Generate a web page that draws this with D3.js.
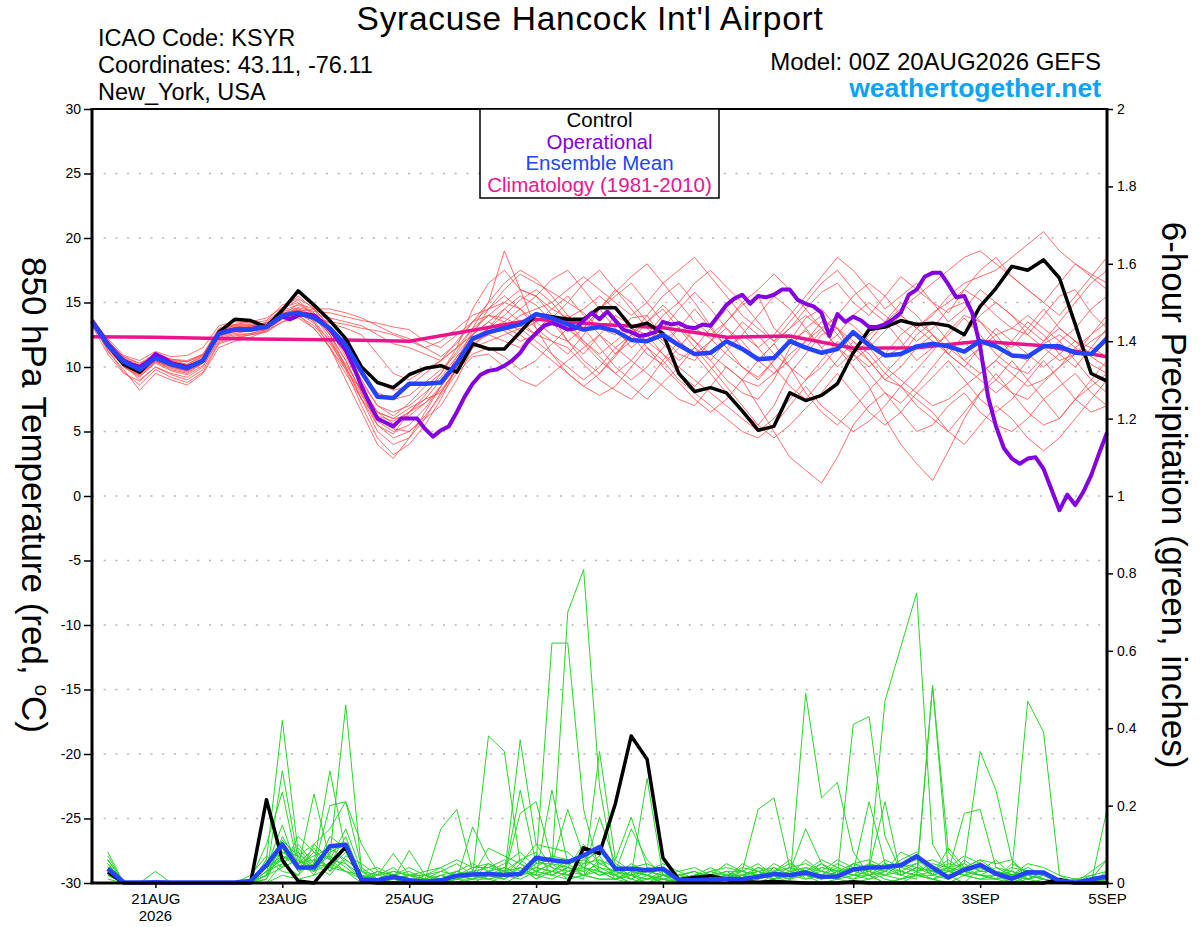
<!DOCTYPE html>
<html>
<head>
<meta charset="utf-8">
<title>Syracuse Hancock Int'l Airport - GEFS</title>
<script src="https://cdn.jsdelivr.net/npm/d3@7"></script>
<style>
  body { margin: 0; background: #fff; }
  svg { display: block; font-family: "Liberation Sans", Arial, Helvetica, sans-serif; }
</style>
</head>
<body>
<div id="chart"></div>
<script>
// model run start (00Z 20AUG2026), members are 6-hourly, the operational run is 3-hourly
const RUN_START = Date.UTC(2026, 7, 20, 0);
const HOUR = 3600 * 1000;

// labels on the time axis
const TICK_DATES = ["2026-08-21", "2026-08-23", "2026-08-25", "2026-08-27",
                    "2026-08-29", "2026-09-01", "2026-09-03", "2026-09-05"];
const TICK_LABELS = ["21AUG", "23AUG", "25AUG", "27AUG", "29AUG", "1SEP", "3SEP", "5SEP"];

// 850 hPa temperature (C), every 6 h from 00Z 20AUG
const TEMP_CONTROL = [13.6, 11.7, 10.2, 9.6, 10.8, 10.3, 10.0, 10.5, 12.7, 13.7, 13.6, 13.1, 14.4, 15.9, 14.8, 13.6,
  12.2, 10.0, 8.8, 8.4, 9.4, 9.9, 10.1, 9.6, 11.8, 11.4, 11.4, 12.7, 14.1, 13.9, 13.7, 13.7,
  14.6, 14.6, 13.1, 13.4, 12.6, 9.5, 8.1, 8.4, 8.0, 6.6, 5.1, 5.4, 8.0, 7.4, 7.8, 8.7,
  11.1, 12.9, 13.1, 13.6, 13.3, 13.4, 13.2, 12.5, 14.7, 16.1, 17.8, 17.5, 18.3, 16.9, 13.3, 9.5, 8.9];
const TEMP_MEAN = [13.5, 11.7, 10.4, 9.8, 10.7, 10.2, 9.9, 10.5, 12.6, 12.9, 12.9, 13.1, 14.0, 14.2, 13.8, 13.0,
  11.7, 9.6, 7.7, 7.6, 8.7, 8.7, 8.8, 10.3, 12.2, 12.7, 13.0, 13.3, 14.1, 13.8, 13.3, 12.9,
  13.1, 12.8, 12.1, 12.0, 12.5, 11.7, 11.0, 11.1, 12.0, 11.4, 10.6, 10.7, 12.0, 11.5, 11.1, 11.4,
  12.7, 11.7, 10.9, 11.0, 11.6, 11.8, 11.6, 11.2, 12.0, 11.6, 10.9, 10.8, 11.6, 11.6, 11.1, 11.0, 12.2];
// operational run, every 3 h
const TEMP_OPER = [13.6, 12.7, 11.8, 11.1, 10.5, 10.2, 10.0, 10.4, 11.0, 10.7, 10.3, 10.1, 10.0, 10.2, 10.5, 11.6,
  12.6, 12.8, 12.9, 12.9, 12.9, 13.1, 13.1, 13.5, 13.9, 13.7, 14.0, 14.1, 14.0, 13.5, 12.9, 12.1,
  11.3, 10.0, 8.5, 7.2, 6.0, 5.7, 5.4, 6.0, 6.0, 6.0, 5.2, 4.6, 5.1, 5.4, 6.5, 7.7,
  8.7, 9.4, 9.7, 9.8, 10.1, 10.5, 11.1, 12.0, 12.6, 13.2, 13.4, 13.2, 12.9, 13.0, 13.6, 14.2,
  13.7, 14.3, 13.6, 12.9, 12.7, 12.4, 12.5, 12.7, 13.5, 13.3, 13.4, 13.1, 13.0, 13.3, 13.2, 14.0,
  14.8, 15.3, 15.6, 14.9, 15.5, 15.4, 15.6, 16.0, 16.0, 15.2, 14.9, 14.7, 14.2, 12.4, 14.1, 13.5,
  13.9, 13.6, 13.1, 13.1, 13.3, 13.7, 14.2, 15.6, 16.0, 17.0, 17.3, 17.3, 16.4, 15.4, 15.5, 14.2,
  11.6, 7.7, 5.4, 3.7, 2.9, 2.5, 2.9, 3.0, 2.1, 0.5, -1.1, 0.1, -0.7, 0.3, 1.6, 3.3, 4.9];
// climatology 1981-2010, once a day at 00Z
const TEMP_CLIMO = [12.35, 12.3, 12.2, 12.15, 12.1, 12.0, 12.85, 13.7, 13.3, 13.05, 12.3, 12.4, 11.45, 11.5, 12.0, 11.65, 10.8];

// ensemble members, every 6 h from 00Z 20AUG
const TEMP_MEMBERS = [
  [13.6, 11.5, 10.0, 9.2, 10.4, 9.8, 9.5, 10.3, 12.8, 13.2, 13.0, 13.5, 14.5, 15.2, 14.0, 12.5, 10.5, 8.0, 5.5, 4.8, 6.5, 7.5, 8.0, 10.0, 12.5, 14.5, 16.0, 17.2, 16.5, 15.8, 15.0, 14.2, 13.0, 12.5, 13.8, 14.0, 12.2, 11.0, 10.5, 12.0, 13.5, 14.8, 15.5, 13.0, 12.0, 11.5, 12.8, 14.0, 13.2, 12.0, 10.8, 11.5, 13.0, 14.2, 15.0, 16.0, 15.2, 14.0, 13.0, 12.5, 14.0, 15.5, 16.0, 14.2, 13.0],
  [13.4, 12.0, 10.8, 10.2, 11.0, 10.5, 10.4, 10.9, 12.4, 12.8, 13.2, 13.4, 14.0, 14.6, 14.3, 14.2, 13.9, 13.6, 13.4, 13.1, 12.9, 12.0, 11.5, 12.5, 13.5, 14.0, 13.8, 13.2, 12.5, 12.0, 11.5, 10.2, 9.0, 8.2, 7.5, 8.8, 10.5, 12.0, 11.0, 9.5, 8.0, 6.5, 5.5, 7.0, 9.5, 11.0, 12.5, 13.0, 11.5, 10.5, 9.0, 8.5, 9.8, 11.2, 12.8, 14.0, 13.5, 12.5, 11.0, 10.5, 11.8, 12.5, 11.5, 10.2, 9.5],
  [13.5, 11.2, 9.8, 8.2, 9.5, 9.0, 8.6, 9.5, 11.5, 12.0, 12.3, 12.8, 13.5, 14.0, 13.2, 11.8, 10.0, 7.5, 6.0, 5.2, 5.0, 6.0, 7.0, 9.0, 11.5, 13.0, 14.5, 15.5, 14.8, 13.5, 12.0, 10.5, 9.5, 10.8, 12.5, 14.0, 15.5, 16.5, 15.0, 13.2, 11.5, 10.0, 9.0, 10.5, 12.0, 13.8, 14.5, 13.0, 11.0, 9.5, 8.0, 7.2, 8.5, 10.0, 11.5, 12.0, 10.5, 9.0, 8.0, 7.5, 8.8, 10.0, 11.5, 12.5, 13.5],
  [13.7, 12.2, 10.9, 10.5, 11.2, 10.8, 10.9, 11.5, 13.2, 13.5, 13.4, 13.6, 14.8, 15.3, 14.6, 13.0, 11.2, 9.0, 7.0, 6.2, 7.2, 8.5, 9.5, 11.5, 14.5, 16.5, 17.5, 16.0, 15.5, 16.8, 17.5, 16.0, 14.5, 13.0, 11.5, 12.5, 14.0, 15.0, 16.5, 17.5, 16.2, 15.0, 13.5, 12.0, 13.0, 14.5, 15.8, 16.5, 15.0, 14.0, 15.5, 17.0, 16.0, 15.0, 14.2, 16.0, 17.5, 18.5, 17.0, 16.0, 15.0, 16.5, 18.0, 17.2, 16.5],
  [13.5, 11.8, 10.2, 9.0, 10.0, 9.5, 9.2, 10.0, 12.2, 12.5, 12.6, 12.9, 13.8, 14.1, 13.6, 12.0, 9.8, 7.0, 4.5, 3.2, 4.0, 5.5, 7.5, 10.0, 12.0, 13.0, 13.5, 14.5, 15.5, 14.0, 12.0, 11.0, 12.5, 14.0, 13.2, 11.5, 10.0, 8.8, 7.5, 6.5, 7.5, 9.0, 10.5, 11.8, 10.0, 8.0, 6.5, 5.5, 6.8, 8.2, 9.5, 8.5, 7.0, 6.0, 5.0, 6.5, 8.0, 9.5, 8.0, 6.5, 5.5, 6.0, 7.5, 8.5, 9.5],
  [13.6, 11.6, 10.4, 9.9, 10.8, 10.2, 10.0, 10.6, 12.7, 13.0, 13.1, 13.2, 14.2, 14.4, 13.9, 13.4, 13.0, 12.5, 11.0, 9.5, 9.0, 9.8, 10.5, 11.5, 13.0, 15.0, 19.0, 16.0, 13.0, 11.0, 9.5, 8.5, 9.5, 11.0, 12.5, 11.0, 10.2, 11.5, 13.0, 12.2, 11.0, 10.0, 9.2, 10.5, 12.0, 12.8, 11.5, 10.0, 11.2, 12.5, 13.5, 12.0, 10.5, 11.5, 12.5, 13.8, 12.5, 11.0, 10.0, 9.5, 10.8, 12.0, 10.5, 9.0, 8.0],
  [13.3, 11.4, 10.1, 9.5, 10.5, 10.0, 9.8, 10.4, 12.5, 12.9, 13.0, 13.2, 14.4, 14.8, 14.2, 12.8, 10.8, 8.5, 6.5, 6.0, 6.8, 7.5, 9.0, 10.5, 12.8, 14.0, 13.5, 12.8, 13.5, 14.5, 15.5, 14.0, 12.5, 11.0, 12.0, 13.5, 14.8, 13.5, 12.0, 10.5, 9.0, 8.0, 7.5, 9.0, 11.5, 13.0, 14.0, 12.5, 11.0, 12.0, 13.5, 15.0, 14.0, 12.5, 11.0, 10.0, 11.5, 13.0, 12.0, 11.0, 10.0, 11.0, 12.0, 11.5, 10.8],
  [13.8, 12.1, 10.6, 10.0, 11.1, 10.6, 10.5, 11.0, 12.9, 13.3, 13.5, 13.8, 14.6, 15.0, 14.0, 12.2, 10.0, 7.8, 5.8, 5.0, 5.5, 6.8, 8.5, 10.8, 12.0, 12.5, 12.0, 11.5, 12.8, 14.0, 13.0, 11.8, 10.5, 9.5, 8.5, 7.5, 8.8, 10.0, 11.5, 10.0, 8.5, 7.0, 5.5, 4.5, 5.5, 6.8, 8.0, 9.5, 8.0, 6.5, 5.5, 6.5, 8.0, 9.2, 10.5, 9.0, 7.5, 6.5, 7.5, 9.0, 10.5, 9.0, 7.5, 6.5, 7.0],
  [13.5, 11.9, 10.5, 9.7, 10.6, 10.1, 9.9, 10.6, 12.6, 12.8, 12.9, 13.0, 13.8, 14.0, 13.8, 13.5, 13.3, 13.0, 12.8, 12.5, 12.0, 11.5, 12.0, 13.0, 14.0, 14.5, 15.5, 14.5, 13.0, 12.0, 11.0, 12.5, 14.5, 16.0, 15.0, 13.5, 12.0, 13.0, 14.5, 13.0, 11.5, 12.5, 14.0, 15.5, 14.5, 13.0, 11.5, 12.5, 14.0, 15.0, 14.0, 13.0, 12.0, 13.0, 14.5, 15.0, 13.5, 12.0, 11.5, 13.0, 14.5, 13.0, 12.0, 11.0, 12.5],
  [13.4, 11.3, 9.6, 8.6, 9.8, 9.2, 8.8, 9.6, 11.8, 12.2, 12.5, 12.7, 13.5, 13.8, 13.0, 11.5, 9.8, 8.2, 6.5, 5.6, 6.5, 7.2, 8.2, 9.8, 11.0, 11.5, 10.8, 9.8, 10.5, 11.8, 13.0, 12.0, 10.8, 9.5, 10.5, 12.0, 11.0, 9.5, 8.5, 9.8, 11.2, 12.5, 11.5, 10.0, 8.5, 7.5, 9.0, 10.5, 12.0, 11.0, 9.5, 10.8, 12.5, 13.5, 12.0, 10.5, 9.5, 10.5, 12.0, 13.5, 12.5, 11.0, 10.0, 11.5, 13.0],
  [13.6, 11.7, 10.3, 9.6, 10.6, 10.1, 9.8, 10.5, 12.3, 12.6, 12.8, 13.0, 13.9, 14.3, 14.5, 14.5, 14.2, 13.8, 13.2, 12.6, 12.2, 11.5, 10.8, 11.8, 13.5, 15.0, 16.5, 17.5, 16.8, 15.5, 14.0, 13.0, 14.5, 15.8, 17.0, 18.0, 16.5, 15.0, 13.5, 12.5, 13.5, 15.0, 16.0, 17.2, 16.0, 14.5, 13.0, 14.0, 15.5, 16.5, 15.5, 14.0, 13.0, 14.0, 15.5, 16.5, 17.0, 17.5, 18.5, 19.5, 20.5, 19.0, 18.0, 17.0, 16.0],
  [13.5, 11.5, 10.2, 9.6, 10.5, 10.0, 9.7, 10.3, 12.5, 12.9, 13.0, 13.2, 14.3, 14.6, 13.5, 11.5, 9.0, 6.5, 4.0, 2.9, 4.5, 6.5, 8.5, 10.5, 12.0, 12.8, 13.0, 12.5, 11.5, 10.5, 9.5, 8.5, 7.8, 8.5, 10.0, 11.5, 10.5, 9.0, 8.0, 7.0, 6.0, 5.0, 4.5, 5.5, 7.0, 8.5, 7.0, 6.0, 5.0, 5.8, 7.0, 8.5, 7.5, 6.5, 5.0, 4.0, 5.5, 7.0, 6.0, 4.5, 3.5, 4.5, 6.0, 7.5, 9.0],
  [13.7, 11.9, 10.7, 10.1, 10.9, 10.4, 10.2, 10.8, 12.9, 13.2, 13.2, 13.4, 14.1, 14.5, 14.0, 13.0, 11.5, 9.5, 8.0, 7.5, 7.8, 8.8, 9.8, 11.0, 12.5, 13.5, 14.5, 13.5, 12.5, 13.8, 15.0, 16.5, 17.5, 16.0, 14.5, 13.0, 11.8, 10.5, 11.5, 13.0, 14.5, 13.0, 11.5, 12.5, 14.0, 15.5, 17.0, 18.5, 17.5, 16.0, 14.5, 15.5, 16.5, 15.0, 13.5, 14.5, 16.0, 15.0, 14.0, 13.0, 12.0, 13.5, 15.0, 16.5, 17.5],
  [13.2, 11.0, 9.5, 8.9, 10.0, 9.4, 9.0, 9.8, 11.9, 12.3, 12.5, 12.8, 13.7, 14.0, 13.0, 11.5, 9.5, 7.5, 5.5, 4.5, 5.0, 6.2, 7.8, 9.5, 10.8, 11.0, 10.0, 9.0, 8.5, 9.5, 10.5, 11.5, 12.5, 11.5, 10.5, 9.5, 8.5, 7.5, 7.0, 8.5, 10.0, 9.0, 7.0, 5.0, 3.0, 2.0, 1.0, 3.0, 5.5, 7.0, 8.0, 6.5, 5.0, 5.5, 7.0, 8.0, 6.5, 5.5, 5.0, 6.0, 7.5, 8.5, 9.5, 8.0, 7.0],
  [13.6, 11.8, 10.6, 10.1, 11.0, 10.5, 10.2, 10.9, 12.8, 13.1, 13.2, 13.3, 14.0, 14.3, 14.1, 13.8, 13.5, 13.2, 12.5, 11.8, 11.5, 11.0, 10.5, 11.5, 12.5, 13.5, 12.8, 12.0, 12.5, 13.5, 14.0, 13.0, 11.5, 10.0, 9.0, 10.0, 11.5, 13.0, 12.0, 11.0, 10.0, 9.0, 8.5, 9.5, 11.0, 12.0, 13.0, 11.5, 10.0, 8.5, 6.0, 4.0, 2.5, 1.2, 3.5, 6.0, 8.0, 9.0, 10.5, 9.0, 7.5, 6.0, 7.5, 9.0, 10.5],
  [13.5, 11.6, 10.2, 9.4, 10.4, 9.9, 9.6, 10.3, 12.4, 12.7, 12.8, 13.0, 13.8, 14.2, 13.4, 12.0, 10.2, 8.2, 6.5, 6.0, 6.2, 7.2, 8.5, 10.0, 11.8, 12.5, 13.0, 14.0, 14.5, 15.0, 16.0, 17.0, 16.0, 15.0, 14.0, 15.0, 16.5, 17.5, 18.5, 17.0, 15.5, 14.0, 13.0, 12.0, 13.5, 15.0, 16.5, 17.5, 16.0, 14.5, 13.5, 14.5, 15.5, 16.5, 17.5, 18.5, 19.0, 18.0, 17.0, 16.0, 15.0, 14.0, 15.5, 17.0, 18.5],
  [13.4, 11.4, 10.0, 9.3, 10.3, 9.7, 9.4, 10.1, 12.0, 12.4, 12.6, 12.9, 14.0, 14.9, 14.5, 13.2, 11.0, 8.8, 7.0, 6.5, 7.0, 8.0, 9.2, 10.8, 12.2, 13.0, 14.0, 15.2, 16.0, 15.0, 13.5, 12.0, 11.0, 12.0, 13.0, 12.5, 11.0, 10.0, 9.0, 8.0, 7.0, 6.0, 5.0, 6.0, 7.5, 9.0, 10.0, 11.5, 12.5, 11.5, 10.0, 9.0, 8.0, 7.0, 7.5, 8.5, 9.5, 10.5, 9.5, 8.5, 9.0, 10.0, 11.0, 12.0, 12.8],
  [13.6, 11.8, 10.5, 9.9, 10.8, 10.3, 10.1, 10.7, 12.7, 13.0, 13.0, 13.1, 13.9, 14.2, 13.8, 12.8, 11.6, 10.0, 8.8, 8.2, 8.5, 9.5, 10.5, 12.0, 13.5, 14.5, 15.0, 16.0, 15.5, 14.5, 13.8, 14.5, 15.5, 14.5, 13.0, 12.0, 13.0, 14.5, 15.8, 14.5, 13.0, 11.5, 10.5, 11.8, 13.0, 14.0, 13.0, 11.5, 10.5, 11.5, 12.8, 14.0, 13.0, 12.0, 11.0, 12.5, 14.0, 15.0, 14.0, 12.5, 11.5, 10.5, 11.0, 12.5, 14.0],
  [13.5, 11.5, 10.0, 9.4, 10.5, 10.0, 9.7, 10.4, 12.6, 13.0, 13.1, 13.3, 14.6, 15.5, 14.5, 12.5, 10.0, 7.5, 5.0, 4.0, 4.5, 6.0, 8.0, 9.8, 11.5, 12.0, 12.5, 13.0, 12.0, 11.0, 10.0, 9.0, 10.0, 11.5, 12.5, 13.5, 14.5, 13.0, 11.5, 10.5, 12.0, 13.5, 12.5, 11.0, 10.0, 9.0, 10.5, 12.0, 11.0, 10.0, 11.0, 12.5, 13.5, 12.5, 11.0, 10.0, 9.0, 8.0, 9.0, 10.5, 12.0, 13.0, 12.0, 10.8, 10.0],
  [13.7, 12.0, 10.8, 10.3, 11.0, 10.6, 10.4, 11.0, 13.0, 13.3, 13.3, 13.4, 14.1, 14.4, 14.0, 12.5, 10.5, 8.0, 6.2, 5.8, 6.5, 7.8, 9.5, 11.2, 13.0, 14.0, 15.0, 14.5, 13.5, 12.5, 12.0, 13.0, 14.5, 15.5, 16.5, 15.0, 13.5, 12.0, 11.0, 12.0, 13.0, 12.0, 10.5, 9.5, 10.5, 12.0, 13.5, 13.0, 12.0, 10.5, 9.0, 10.0, 11.5, 12.5, 11.5, 10.5, 11.5, 12.5, 13.0, 14.0, 13.0, 12.0, 13.0, 14.5, 15.5]
];

// 6-hour precipitation (inches), every 6 h from 06Z 20AUG
const PRECIP_CONTROL = [0.028, 0, 0, 0, 0, 0, 0, 0, 0, 0, 0.215, 0.059, 0.005, 0, 0.05, 0.093,
  0.005, 0, 0, 0, 0, 0, 0, 0, 0, 0, 0, 0, 0, 0, 0.091, 0.076,
  0.205, 0.38, 0.32, 0.065, 0.009, 0.014, 0.019, 0.009, 0.003, 0.002, 0.004, 0.002, 0, 0, 0, 0.003,
  0, 0, 0, 0, 0, 0, 0, 0, 0, 0, 0, 0, 0.009, 0, 0, 0];
const PRECIP_MEAN = [0.037, 0.002, 0.001, 0.002, 0.001, 0.001, 0.001, 0.001, 0.001, 0.005, 0.046, 0.1, 0.04, 0.04, 0.095, 0.099,
  0.009, 0.007, 0.016, 0.007, 0.003, 0.007, 0.019, 0.022, 0.023, 0.021, 0.023, 0.065, 0.059, 0.054, 0.071, 0.093,
  0.037, 0.037, 0.033, 0.037, 0.007, 0.007, 0.009, 0.011, 0.01, 0.016, 0.023, 0.02, 0.027, 0.016, 0.017, 0.035,
  0.04, 0.041, 0.046, 0.069, 0.04, 0.014, 0.034, 0.047, 0.024, 0.011, 0.028, 0.027, 0.005, 0.001, 0.009, 0.017];
const PRECIP_MEMBERS = [
  [.04, 0, 0, 0, 0, 0, 0, 0, 0, 0, .06, .42, .08, .03, .05, .12, .01, 0, 0, 0, 0, 0, .02, .03, .01, 0, .02, .05, .62, .62, .19, .03, .01, 0, .02, 0, 0, 0, 0, .01, .02, 0, .01, .03, .02, 0, .01, .05, .03, .01, 0, .02, .01, 0, 0, .04, .02, 0, .01, 0, 0, 0, 0, .01],
  [.07, 0, 0, 0, 0, 0, 0, 0, 0, 0, .02, .29, .06, .04, .07, .46, .03, 0, 0, 0, 0, .01, 0, 0, 0, .02, .04, .01, .05, .70, .81, .25, .02, 0, 0, .01, 0, 0, 0, 0, 0, .01, .02, 0, .49, .22, .26, .08, .02, 0, .01, .03, .01, .02, 0, 0, 0, .01, 0, 0, 0, 0, 0, 0],
  [.02, 0, 0, .03, 0, 0, 0, 0, 0, .01, .10, .235, .04, .23, .06, .03, .01, .02, .076, .02, 0, 0, .01, .01, .05, .02, .37, .10, .04, .01, .02, .04, .03, .14, .06, .02, 0, .01, .03, .02, .01, .03, .01, .02, .06, .03, .02, .41, .43, .12, .03, .02, .01, .03, .05, .34, .24, .06, .02, .01, 0, 0, .01, .06],
  [.08, 0, 0, 0, 0, 0, 0, 0, 0, 0, .04, .15, .03, .05, .29, .08, .02, 0, .01, .084, .02, 0, .03, .02, .38, .34, .05, .01, .03, .02, .01, .34, .06, .17, .04, .01, 0, 0, .02, .05, .03, .19, .22, .04, .02, .01, .03, .01, .02, 0, .01, .02, .51, .08, .03, .02, .01, 0, .02, .03, .01, 0, 0, .19],
  [.05, 0, 0, 0, 0, 0, 0, 0, 0, 0, .03, .06, .09, .04, .20, .21, .10, .03, .01, 0, .01, .14, .19, .03, .02, .01, .04, .02, .24, .05, .02, .01, .01, .02, .27, .02, .01, 0, 0, .02, .02, .01, .04, .02, .03, .05, .02, .01, .04, .47, .61, .75, .10, .03, .02, .01, .02, .01, .03, .01, 0, .01, .02, .03],
  [.03, 0, 0, 0, 0, 0, 0, 0, 0, .02, .07, .04, .12, .08, .06, .14, .03, .01, 0, .02, .03, .04, .01, .145, .06, .02, .18, .21, .06, .04, .03, .17, .05, .03, .02, 0, .01, .02, .01, 0, .02, .04, .03, .06, .01, .02, .05, .03, .21, .05, .02, .01, .51, .03, .18, .19, .04, .02, .03, .02, 0, 0, 0, .01],
  [.06, 0, 0, 0, 0, 0, 0, 0, 0, 0, .05, .08, .07, .02, .10, .05, .02, 0, .02, .01, 0, .02, .03, .05, .03, .05, .08, .04, .07, .06, .05, .09, .04, .01, 0, .02, .02, .03, .01, .02, .03, .02, .05, .03, .02, .04, .03, .05, .06, .04, .03, .02, .03, .05, .04, .02, .04, .03, .47, .39, .02, 0, 0, .01],
  [.04, 0, 0, 0, 0, 0, 0, 0, 0, 0, .01, .12, .05, .06, .04, .09, .01, .02, .04, .01, 0, .01, .02, .01, .03, .02, .24, .05, .05, .19, .07, .03, .02, .04, .05, .03, .01, 0, .01, .02, 0, .02, .01, .03, .14, .05, .02, .03, .02, .04, .05, .06, .04, .02, .03, .02, .01, .05, .03, .02, .01, 0, .03, .06],
  [.02, 0, 0, 0, 0, 0, 0, 0, 0, 0, .02, .10, .04, .03, .12, .09, .02, 0, .01, .02, .02, .04, .06, .04, .05, .03, .06, .08, .02, .04, .10, .05, .03, .01, .04, .03, .02, .01, .03, .04, .03, .05, .02, .04, .05, .03, .02, .04, .03, .06, .04, .05, .06, .04, .03, .05, .03, .02, .04, .02, .01, 0, 0, 0],
  [.05, 0, 0, 0, 0, 0, 0, 0, 0, 0, 0, .05, .02, .10, .14, .21, .04, .01, 0, 0, .01, 0, .01, 0, .02, .01, .03, .02, .01, .03, .02, .06, .02, 0, .01, .01, 0, 0, .01, 0, .01, 0, .02, .01, .04, .02, .01, .02, .01, .03, .02, .04, .02, .01, .03, .02, .02, .01, .02, .01, 0, 0, 0, 0],
  [.03, 0, 0, 0, 0, 0, 0, 0, 0, 0, .04, .07, .05, .09, .03, .06, .03, .04, .02, .01, 0, .02, .01, .02, .09, .07, .05, .10, .09, .08, .04, .07, .01, .03, .02, .01, .02, .01, 0, .02, .04, .03, .02, .01, .03, .02, .04, .02, .05, .03, .06, .08, .02, .09, .04, .06, .05, .06, .01, .02, 0, 0, .01, .02],
  [.06, 0, 0, 0, 0, 0, 0, 0, 0, 0, .01, .09, .03, .05, .02, .07, .05, .02, .03, .02, .01, 0, .02, .04, .04, .06, .03, .04, .03, .05, .06, .08, .04, .02, .03, .05, .03, .04, .02, .01, .05, .03, .04, .02, .02, .04, .03, .02, .03, .02, .05, .03, .04, .03, .02, .05, .02, .04, .03, .01, 0, .01, 0, .02],
  [.01, 0, 0, 0, 0, 0, 0, 0, 0, 0, .06, .03, .02, .06, .07, .04, .01, .03, .02, 0, .02, .01, .02, .03, .02, .04, .02, .06, .04, .03, .04, .02, .03, .02, .01, .02, .01, .02, .04, .02, .02, .01, .03, .05, .03, .01, .02, .03, .04, .21, .02, .04, .03, .02, .06, .03, .06, .02, .01, .03, .01, 0, .02, .01],
  [.04, 0, 0, 0, 0, 0, 0, 0, 0, 0, .03, .05, .08, .04, .05, .03, .02, .01, .03, .02, .01, .02, 0, .01, .03, .01, .05, .03, .02, .04, .03, .05, .06, .03, .02, .04, .02, .03, .01, .03, .01, .04, .02, .03, .04, .03, .06, .04, .02, .05, .04, .03, .05, .04, .02, .03, .03, .02, .05, .04, .02, .01, 0, 0],
  [.02, 0, 0, 0, 0, 0, 0, 0, 0, 0, 0, .02, .01, .02, .04, .03, 0, 0, .01, 0, 0, 0, .01, .02, .01, .02, .01, .03, .02, .01, .02, .01, .01, .02, 0, .01, 0, .01, 0, 0, .01, 0, .01, .02, .01, .02, .01, 0, .01, .02, .01, .02, .01, 0, .02, .01, .01, .02, 0, .01, 0, 0, 0, 0],
  [.05, 0, 0, 0, 0, 0, 0, 0, 0, 0, .02, .04, .06, .03, .08, .10, .02, .01, .02, .03, .01, .03, .05, .02, .03, .04, .02, .03, .05, .02, .06, .04, .02, .05, .03, .02, .01, .02, .03, .01, .02, .03, .01, .02, .03, .06, .04, .02, .02, .03, .08, .06, .03, .04, .07, .05, .02, .03, .01, .02, .01, 0, .01, 0],
  [.03, 0, 0, 0, 0, 0, 0, 0, 0, 0, .05, .11, .07, .10, .06, .05, .01, 0, 0, .01, .01, 0, .02, .01, .02, .03, .02, .04, .03, .02, .05, .06, .04, .02, .01, .03, .01, .02, .02, .01, .02, .01, .03, .02, .02, .03, .02, .05, .04, .02, .03, .05, .02, .03, .04, .06, .03, .02, .01, .03, 0, 0, 0, .02],
  [.04, 0, 0, 0, 0, 0, 0, 0, 0, 0, .03, .08, .05, .07, .09, .06, .03, .02, .01, .02, .02, .01, .03, .02, .05, .03, .04, .02, .03, .06, .04, .03, .02, .01, .03, .02, .03, .01, .02, .03, .03, .02, .03, .04, .02, .05, .03, .03, .05, .04, .02, .04, .03, .06, .03, .04, .02, .03, .02, .01, 0, .01, 0, .01],
  [.02, 0, 0, 0, 0, 0, 0, 0, 0, 0, .04, .06, .10, .05, .04, .08, .02, .01, .02, 0, 0, .01, .02, .01, .01, .02, .06, .03, .05, .04, .02, .03, .01, .03, .02, .01, .01, 0, .02, .01, .03, .02, .02, .01, .02, .01, .03, .04, .03, .05, .03, .02, .02, .04, .05, .03, .03, .01, .02, .03, .01, 0, 0, .03],
  [.06, 0, 0, 0, 0, 0, 0, 0, 0, 0, .02, .07, .04, .08, .03, .10, .01, .03, .02, .04, .02, .03, .02, .03, .04, .03, .02, .05, .06, .03, .04, .02, .03, .02, .04, .03, .02, .03, .01, .02, .02, .03, .02, .04, .03, .02, .02, .04, .04, .03, .05, .04, .03, .02, .03, .02, .01, .02, .03, .02, 0, 0, 0, .01]
];

// canvas and plotting area
const FRAME_WIDTH = 1200;
const FRAME_HEIGHT = 927;
const PLOT = {left: 92, right: 1107, top: 109, bottom: 883};

const SVG = d3.select("#chart")
              .append("svg")
                .attr("width", FRAME_WIDTH)
                .attr("height", FRAME_HEIGHT);

// scales: time on x, temperature on the left, precipitation on the right
const X_SCALE = d3.scaleUtc()
                  .domain([new Date(RUN_START), new Date(RUN_START + 16 * 24 * HOUR)])
                  .range([PLOT.left, PLOT.right]);
const T_SCALE = d3.scaleLinear()
                  .domain([-30, 30])
                  .range([PLOT.bottom, PLOT.top]);
const P_SCALE = d3.scaleLinear()
                  .domain([0, 2])
                  .range([PLOT.bottom, PLOT.top]);

// time of a value, step and offset given in hours
function timeOf(i, step, offset) {
  return new Date(RUN_START + (i * step + offset) * HOUR);
}

// dotted grid at the temperature ticks
SVG.append("g")
   .selectAll("line")
   .data(d3.range(-25, 30, 5))
   .enter()
   .append("line")
     .attr("x1", PLOT.left)
     .attr("x2", PLOT.right)
     .attr("y1", (d) => T_SCALE(d))
     .attr("y2", (d) => T_SCALE(d))
     .attr("stroke", "#b4b4b4")
     .attr("stroke-width", 1.5)
     .attr("stroke-dasharray", "2,9.7");

// line builders
const tempLine = d3.line()
                   .x((d, i) => X_SCALE(timeOf(i, 6, 0)))
                   .y((d) => T_SCALE(d));
const operLine = d3.line()
                   .x((d, i) => X_SCALE(timeOf(i, 3, 0)))
                   .y((d) => T_SCALE(d));
const climoLine = d3.line()
                    .x((d, i) => X_SCALE(timeOf(i, 24, 0)))
                    .y((d) => T_SCALE(d));
const precipLine = d3.line()
                     .x((d, i) => X_SCALE(timeOf(i, 6, 6)))
                     .y((d) => P_SCALE(d));

// precipitation members (green)
SVG.append("g")
   .selectAll("path")
   .data(PRECIP_MEMBERS)
   .enter()
   .append("path")
     .attr("d", precipLine)
     .attr("fill", "none")
     .attr("stroke", "#2ad42a")
     .attr("stroke-width", 1);

// temperature members (red)
SVG.append("g")
   .selectAll("path")
   .data(TEMP_MEMBERS)
   .enter()
   .append("path")
     .attr("d", tempLine)
     .attr("fill", "none")
     .attr("stroke", "#ff4a4a")
     .attr("stroke-opacity", 0.8)
     .attr("stroke-width", 1);

// control and mean precipitation
SVG.append("path")
   .attr("d", precipLine(PRECIP_CONTROL))
   .attr("fill", "none")
   .attr("stroke", "#000")
   .attr("stroke-width", 3.5)
   .attr("stroke-linejoin", "round");
SVG.append("path")
   .attr("d", precipLine(PRECIP_MEAN))
   .attr("fill", "none")
   .attr("stroke", "#2443ff")
   .attr("stroke-width", 4.5)
   .attr("stroke-linejoin", "round");

// climatology, control, operational and ensemble mean temperature
SVG.append("path")
   .attr("d", climoLine(TEMP_CLIMO))
   .attr("fill", "none")
   .attr("stroke", "#ec148c")
   .attr("stroke-width", 3.5);
SVG.append("path")
   .attr("d", tempLine(TEMP_CONTROL))
   .attr("fill", "none")
   .attr("stroke", "#000")
   .attr("stroke-width", 3.5)
   .attr("stroke-linejoin", "round");
SVG.append("path")
   .attr("d", operLine(TEMP_OPER))
   .attr("fill", "none")
   .attr("stroke", "#8400e0")
   .attr("stroke-width", 4)
   .attr("stroke-linejoin", "round");
SVG.append("path")
   .attr("d", tempLine(TEMP_MEAN))
   .attr("fill", "none")
   .attr("stroke", "#2443ff")
   .attr("stroke-width", 4.5)
   .attr("stroke-linejoin", "round");

// axes (plain hyphen for negative numbers, like the original)
const FONT = "'Liberation Sans', Arial, Helvetica, sans-serif";

const leftAxis = SVG.append("g")
   .attr("transform", "translate(" + PLOT.left + ",0)")
   .call(d3.axisLeft(T_SCALE)
           .tickValues(d3.range(-30, 31, 5))
           .tickFormat((d) => String(d))
           .tickSize(8).tickPadding(3));
const rightAxis = SVG.append("g")
   .attr("transform", "translate(" + PLOT.right + ",0)")
   .call(d3.axisRight(P_SCALE)
           .tickValues(d3.range(0, 11).map((d) => d * 0.2))
           .tickFormat((d) => String(+d.toFixed(1)))
           .tickSize(6).tickPadding(4));
const bottomAxis = SVG.append("g")
   .attr("transform", "translate(0," + PLOT.bottom + ")")
   .call(d3.axisBottom(X_SCALE)
           .tickValues(TICK_DATES.map((d) => new Date(d + "T00:00:00Z")))
           .tickFormat((d, i) => TICK_LABELS[i])
           .tickSize(5).tickPadding(5));

[leftAxis, rightAxis, bottomAxis].forEach((g) => {
  g.select(".domain").remove();
  g.attr("font-family", FONT).attr("font-size", 14);
  g.selectAll(".tick line").attr("stroke", "#000").attr("stroke-width", 1.5);
  g.selectAll(".tick text").attr("fill", "#000");
});
bottomAxis.attr("font-size", 15);

// year under the first date label
SVG.append("text")
   .attr("x", X_SCALE(new Date(TICK_DATES[0] + "T00:00:00Z")))
   .attr("y", 921)
   .attr("text-anchor", "middle")
   .attr("font-size", 15)
   .text("2026");

// plot frame
SVG.append("line").attr("x1", PLOT.left).attr("x2", PLOT.right).attr("y1", PLOT.top).attr("y2", PLOT.top)
   .attr("stroke", "#000").attr("stroke-width", 2);
SVG.append("line").attr("x1", PLOT.left - 1.5).attr("x2", PLOT.right + 1.5).attr("y1", PLOT.bottom).attr("y2", PLOT.bottom)
   .attr("stroke", "#000").attr("stroke-width", 3);
SVG.append("line").attr("x1", PLOT.left).attr("x2", PLOT.left).attr("y1", PLOT.top - 1).attr("y2", PLOT.bottom)
   .attr("stroke", "#000").attr("stroke-width", 3);
SVG.append("line").attr("x1", PLOT.right).attr("x2", PLOT.right).attr("y1", PLOT.top - 1).attr("y2", PLOT.bottom)
   .attr("stroke", "#000").attr("stroke-width", 3);

// legend box
const LEGEND_NAMES = ["Control", "Operational", "Ensemble Mean", "Climatology (1981-2010)"];
const LEGEND_COLORS = ["#000", "#8400e0", "#2443ff", "#ec148c"];
SVG.append("rect")
   .attr("x", 480).attr("y", PLOT.top)
   .attr("width", 239).attr("height", 89)
   .attr("fill", "#fff")
   .attr("stroke", "#000")
   .attr("stroke-width", 1.5);
SVG.append("g")
   .selectAll("text")
   .data(LEGEND_NAMES)
   .enter()
   .append("text")
     .attr("x", 599.5)
     .attr("y", (d, i) => 127 + i * 21.7)
     .attr("text-anchor", "middle")
     .attr("font-size", 20.5)
     .attr("fill", (d, i) => LEGEND_COLORS[i])
     .text((d) => d);

// titles
SVG.append("text")
   .attr("x", 590).attr("y", 30)
   .attr("text-anchor", "middle")
   .attr("font-size", 33.5)
   .attr("letter-spacing", 0.7)
   .text("Syracuse Hancock Int'l Airport");

const INFO_LEFT = ["ICAO Code: KSYR", "Coordinates: 43.11, -76.11", "New_York, USA"];
SVG.append("g")
   .selectAll("text")
   .data(INFO_LEFT)
   .enter()
   .append("text")
     .attr("x", 98)
     .attr("y", (d, i) => 46 + i * 27)
     .attr("font-size", 23.5)
     .text((d) => d);

SVG.append("text")
   .attr("x", 1101).attr("y", 70)
   .attr("text-anchor", "end")
   .attr("font-size", 24)
   .text("Model: 00Z 20AUG2026 GEFS");
SVG.append("text")
   .attr("x", 1101).attr("y", 97)
   .attr("text-anchor", "end")
   .attr("font-size", 26.5)
   .attr("font-weight", "bold")
   .attr("fill", "#0ba2f7")
   .text("weathertogether.net");

// axis titles, both read top to bottom
const leftTitle = SVG.append("text")
   .attr("transform", "translate(22,495) rotate(90)")
   .attr("text-anchor", "middle")
   .attr("font-size", 35);
leftTitle.append("tspan").text("850 hPa Temperature (red, ");
leftTitle.append("tspan").attr("font-size", 21).attr("dy", -13).text("o");
leftTitle.append("tspan").attr("dy", 13).text("C)");

SVG.append("text")
   .attr("transform", "translate(1162,495) rotate(90)")
   .attr("text-anchor", "middle")
   .attr("font-size", 35)
   .text("6-hour Precipitation (green, inches)");
</script>
</body>
</html>
